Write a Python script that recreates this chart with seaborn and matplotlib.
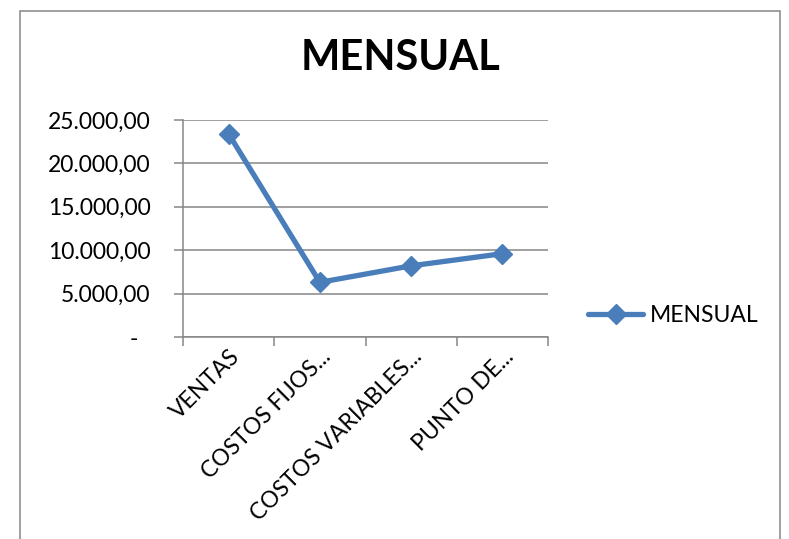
import matplotlib
matplotlib.use("Agg")
import matplotlib.pyplot as plt
import matplotlib.patches as mpatches
from matplotlib.ticker import FixedLocator, FuncFormatter
from matplotlib.transforms import ScaledTranslation
import seaborn as sns
import pandas as pd

# ---- data ----
categories = ["VENTAS", "COSTOS FIJOS...", "COSTOS VARIABLES...", "PUNTO DE..."]
mensual = [23400, 6300, 8200, 9600]
series_name = "MENSUAL"
title = "MENSUAL"
y_ticks = [0, 5000, 10000, 15000, 20000, 25000]

sns.set_theme(style="white")
plt.rcParams["font.family"] = ["Lato", "DejaVu Sans"]

W, H = 789, 539
fig = plt.figure(figsize=(W / 100, H / 100), dpi=100)
fig.patch.set_facecolor("white")

ax = fig.add_axes([183 / W, 1 - 337 / H, (548 - 183) / W, (337 - 120) / H])

df = pd.DataFrame({"cat": categories, "val": mensual})
blue = "#4A7EBB"
sns.lineplot(data=df, x="cat", y="val", ax=ax, sort=False, color=blue,
             linewidth=3.8, marker="D", markersize=10, markeredgecolor=blue,
             markeredgewidth=1, label=series_name)

grey = "#868686"
ax.set_xlim(-0.5, len(categories) - 0.5)
ax.set_ylim(y_ticks[0], y_ticks[-1])
ax.set_xlabel("")
ax.set_ylabel("")

def fmt(v, pos=None):
    if v == 0:
        return "-  "
    s = f"{v:,.2f}"
    return s.replace(",", "X").replace(".", ",").replace("X", ".")

ax.yaxis.set_major_locator(FixedLocator(y_ticks))
ax.yaxis.set_major_formatter(FuncFormatter(fmt))
ax.grid(axis="y", color=grey, linewidth=1.1)
ax.grid(axis="x", visible=False)
ax.set_axisbelow(True)

for s in ["top", "right"]:
    ax.spines[s].set_visible(False)
for s in ["left", "bottom"]:
    ax.spines[s].set_color(grey)
    ax.spines[s].set_linewidth(1.1)

ax.tick_params(axis="y", which="major", direction="out", length=6.5, width=1.1,
               color=grey, labelsize=16.5, pad=17, labelcolor="black", left=True)
ax.set_xticks(range(len(categories)))
ax.set_xticks([i - 0.5 for i in range(len(categories) + 1)], minor=True)
ax.tick_params(axis="x", which="major", length=0, labelsize=16.5, pad=12,
               labelcolor="black")
ax.tick_params(axis="x", which="minor", direction="out", length=6.5, width=1.1,
               color=grey, bottom=True)
ax.set_xticklabels(categories, rotation=45, ha="right", va="center",
                   rotation_mode="anchor")
for lab in ax.get_xticklabels():
    lab.set_transform(lab.get_transform() + ScaledTranslation(8 / 100, 0, fig.dpi_scale_trans))

leg = ax.legend(loc="center left", bbox_to_anchor=(588 / W, 1 - 316 / H),
                bbox_transform=fig.transFigure, frameon=False, fontsize=16.5,
                handlelength=2.4, handletextpad=0.3, borderpad=0,
                borderaxespad=0)
for t in leg.get_texts():
    t.set_color("black")

fig.text(401 / W, 1 - 58 / H, title, ha="center", va="center", fontsize=30,
         fontweight="bold", color="black")

frame = mpatches.Rectangle((20 / W, -0.05), (780 - 20) / W, 1 - 11 / H + 0.05,
                           transform=fig.transFigure, fill=False,
                           edgecolor=grey, linewidth=1.1, clip_on=False)
fig.add_artist(frame)

fig.savefig("out.png", dpi=100, facecolor="white")
